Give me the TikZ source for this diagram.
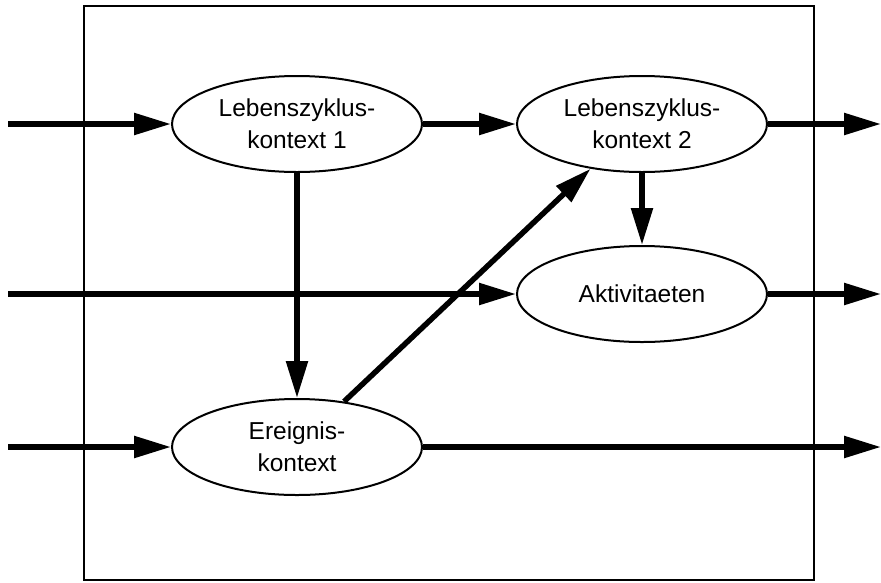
\documentclass[tikz,border=0pt]{standalone}
\usepackage{fontspec}
\setmainfont{Liberation Sans}
\usetikzlibrary{shapes.geometric,arrows.meta}
\begin{document}
\begin{tikzpicture}[x=1pt,y=-1pt,
  proc/.style={ellipse,draw,line width=2pt,minimum width=250pt,minimum height=96pt,
    inner sep=0pt,align=center,font=\fontsize{24.5}{32}\selectfont,fill=white},
  flow/.style={line width=5.5pt,-{Triangle[length=37pt,width=21pt]}},
  frame/.style={draw,line width=2.2pt}]
\useasboundingbox (0,0) rectangle (881,582);
% enclosing frame
\draw[frame] (84,6) rectangle (814,580);

% processes
\node[proc] (lk1) at (297,124) {Lebenszyklus-\\kontext 1};
\node[proc] (lk2) at (642,124) {Lebenszyklus-\\kontext 2};
\node[proc] (akt) at (642,294) {Aktivitaeten};
\node[proc] (ek)  at (297,447) {Ereignis-\\kontext};

% free ends of the flows
\coordinate (in1) at (8,124);
\coordinate (in2) at (8,294);
\coordinate (in3) at (8,447);
\coordinate (out1) at (881,124);
\coordinate (out2) at (881,294);
\coordinate (out3) at (881,447);

% flows
\draw[flow] (in1) -- (lk1.west);
\draw[flow] (lk1.east) -- (lk2.west);
\draw[flow] (lk2.east) -- (out1);
\draw[flow] (in2) -- (akt.west);
\draw[flow] (akt.east) -- (out2);
\draw[flow] (in3) -- (ek.west);
\draw[flow] (ek.east) -- (out3);
\draw[flow] (lk1.south) -- (ek.north);
\draw[flow] (lk2.south) -- (akt.north);
\draw[flow] (ek.44) -- (lk2.221);
\end{tikzpicture}
\end{document}
